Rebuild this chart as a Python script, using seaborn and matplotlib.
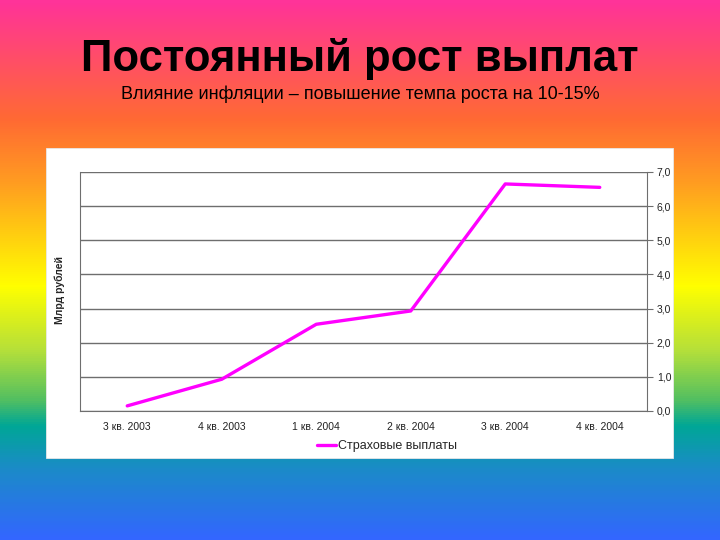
import numpy as np
import pandas as pd
import matplotlib
matplotlib.use("Agg")
import matplotlib.pyplot as plt
import seaborn as sns
from matplotlib.colors import LinearSegmentedColormap
from matplotlib.patches import Rectangle
from matplotlib.ticker import FuncFormatter

# данные
quarters = ["3 кв. 2003", "4 кв. 2003", "1 кв. 2004", "2 кв. 2004", "3 кв. 2004", "4 кв. 2004"]
payments = [0.15, 0.93, 2.54, 2.93, 6.65, 6.55]
series_name = "Страховые выплаты"

df = pd.DataFrame({"quarter": quarters, "payments": payments})

sns.set_style("white")
plt.rcParams["font.family"] = ["Liberation Sans", "DejaVu Sans"]

fig = plt.figure(figsize=(7.2, 5.4), dpi=100)

# радужный фон
bg = fig.add_axes([0, 0, 1, 1], zorder=-10)
stops = [(0.0, "#FF3399"), (0.22, "#FF6A33"), (0.33, "#FF9922"), (0.53, "#FFFF00"),
         (0.65, "#B5E03A"), (0.74, "#55C060"), (0.79, "#00A796"), (0.87, "#1B8BC8"),
         (1.0, "#3366FF")]
cmap = LinearSegmentedColormap.from_list("rainbow_bg", stops)
grad = np.linspace(0, 1, 540).reshape(-1, 1)
bg.imshow(grad, aspect="auto", cmap=cmap, extent=[0, 1, 0, 1], origin="upper")
bg.set_axis_off()

# белая подложка диаграммы
fig.patches.append(Rectangle((46 / 720, 1 - 458 / 540), 627 / 720, 310 / 540,
                             transform=fig.transFigure, facecolor="white",
                             edgecolor="#e8e8e8", lw=0.6, zorder=-5))

fig.text(0.5, 1 - 59 / 540, "Постоянный рост выплат", ha="center", va="center",
         fontsize=31.5, fontweight="bold", color="black")
fig.text(0.5, 1 - 94 / 540, "Влияние инфляции – повышение темпа роста на 10-15%",
         ha="center", va="center", fontsize=13, color="black")

ax = fig.add_axes([80 / 720, 1 - 411 / 540, 567 / 720, 239 / 540])
ax.set_facecolor("white")
sns.lineplot(data=df, x="quarter", y="payments", sort=False, color="#FF00FF",
             linewidth=2.4, label=series_name, ax=ax)

ax.set_xlim(-0.5, len(quarters) - 0.5)
ax.set_ylim(0, 7)
ax.set_yticks(np.arange(0, 8, 1))
ax.yaxis.set_major_formatter(FuncFormatter(lambda v, p: f"{v:.1f}".replace(".", ",")))
ax.yaxis.tick_right()
ax.grid(axis="y", color="#6e6e6e", lw=1)
ax.set_axisbelow(True)

ax.set_xticks(range(len(quarters)))
ax.set_xticklabels(quarters)
ax.set_xticks(np.arange(-0.5, len(quarters), 1), minor=True)
ax.tick_params(axis="x", which="major", length=0, labelsize=7.5, pad=8, colors="#222222")
ax.tick_params(axis="x", which="minor", length=4, color="#6e6e6e", direction="out")
ax.tick_params(axis="y", length=4, color="#6e6e6e", direction="out", labelsize=7.5,
               pad=3, colors="#222222")
ax.set_xlabel("")
ax.set_ylabel("")

for side in ["left", "bottom", "right"]:
    ax.spines[side].set_visible(True)
    ax.spines[side].set_color("#6e6e6e")
ax.spines["top"].set_visible(False)

fig.text(60 / 720, 1 - 290 / 540, "Млрд рублей", rotation=90, ha="center", va="center",
         fontsize=7.5, fontweight="bold")

ax.legend(loc="center", bbox_to_anchor=(387 / 720, 1 - 446 / 540),
          bbox_transform=fig.transFigure, frameon=False, fontsize=9,
          handlelength=1.5, handletextpad=0.2)

fig.savefig("out.png", dpi=100)
